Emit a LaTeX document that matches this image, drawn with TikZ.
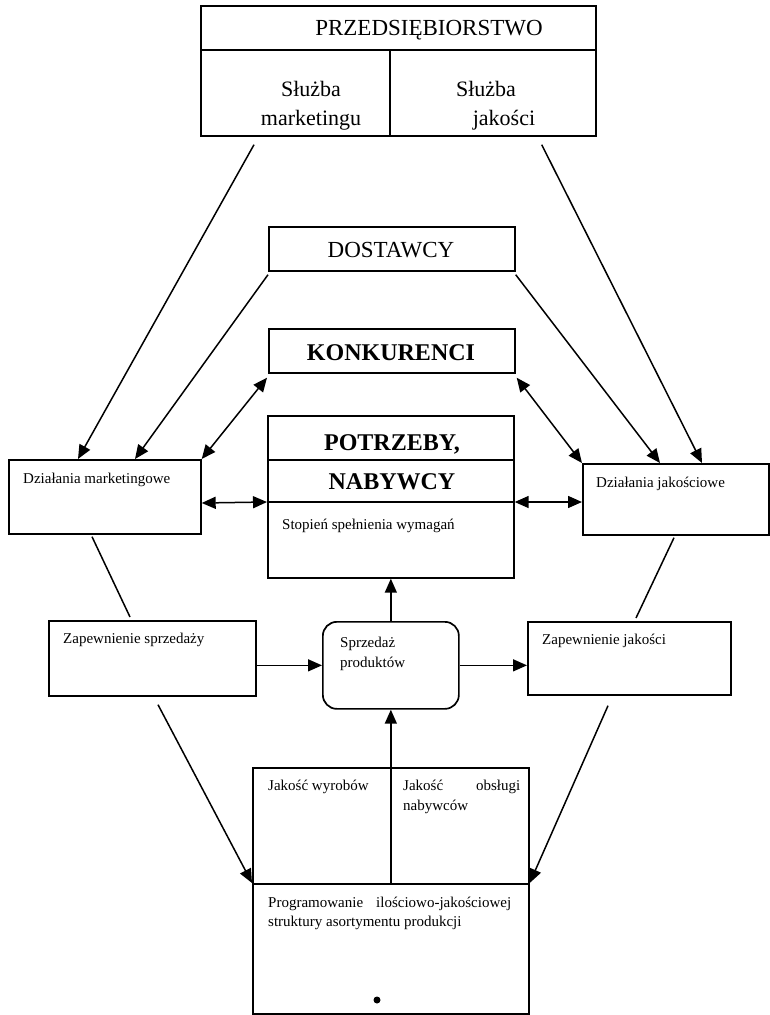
\documentclass[tikz,border=0pt]{standalone}
\usepackage{fontspec}
\setmainfont{Liberation Serif}
\usetikzlibrary{arrows.meta,calc}
\begin{document}
\begin{tikzpicture}[x=1pt,y=-1pt,
  box/.style={draw, line width=1.7pt, inner sep=0pt, anchor=north west},
  big/.style={inner sep=0pt, anchor=base, font=\fontsize{22}{26}\selectfont},
  bigb/.style={inner sep=0pt, anchor=base, font=\fontsize{24}{28}\selectfont\bfseries},
  lbl/.style={inner sep=0pt, anchor=base west, font=\fontsize{15}{20}\selectfont},
  con/.style={line width=1.5pt},
  arr/.style={con, -{Triangle[length=14pt,width=12pt]}},
  barr/.style={con, {Triangle[length=14pt,width=12pt]}-{Triangle[length=14pt,width=12pt]}},
]
\useasboundingbox (0,0) rectangle (770,1015);

% boxes
\node[box, minimum width=395pt, minimum height=130pt] (firm) at (200,5) {};
\draw[line width=1.7pt] (200,50) -- (595,50);
\draw[line width=1.5pt] (390,50) -- (390,135);
\node[box, minimum width=246pt, minimum height=44pt] (dost) at (268,226) {};
\node[box, minimum width=246pt, minimum height=44pt] (konk) at (268,328) {};
\node[box, minimum width=246pt, minimum height=162pt] (pot) at (267,415) {};
\draw[line width=1.7pt] (267,460) -- (513,460);
\draw[line width=1.7pt] (267,502) -- (513,502);
\node[box, minimum width=192pt, minimum height=74pt] (dm) at (8,459) {};
\node[box, minimum width=186pt, minimum height=71pt] (dj) at (582,463) {};
\node[box, minimum width=207pt, minimum height=75pt] (zs) at (48,620) {};
\node[box, minimum width=136pt, minimum height=87pt, rounded corners=14pt] (sp) at (322,621) {};
\node[box, minimum width=203pt, minimum height=73pt] (zj) at (527,621) {};
\node[box, minimum width=276pt, minimum height=116pt] (jak) at (252,767) {};
\node[box, minimum width=276pt, minimum height=130pt] (prog) at (252,883) {};
\fill (377,1000) circle (3.5pt);

% texts
\node[big, font=\fontsize{23}{27}\selectfont] (tFirm) at (429,35) {PRZEDSIĘBIORSTWO};
\node[big] (tSM1) at (311,96) {Służba};
\node[big] (tSM2) at (311,125) {marketingu};
\node[big] (tSJ1) at (486,96) {Służba};
\node[big] (tSJ2) at (504,125) {jakości};
\node[big, font=\fontsize{23}{27}\selectfont] (tDost) at (391,257) {DOSTAWCY};
\node[bigb] (tKonk) at (391,360) {KONKURENCI};
\node[bigb] (tPot1) at (392,450) {POTRZEBY,};
\node[bigb] (tPot2) at (392,489) {NABYWCY};
\node[lbl] (tPot3) at (282,529) {Stopień spełnienia wymagań};
\node[lbl] (tDM) at (23,483) {Działania marketingowe};
\node[lbl] (tDJ) at (596,487) {Działania jakościowe};
\node[lbl] (tZS) at (63,643) {Zapewnienie sprzedaży};
\node[lbl] (tZJ) at (542,644) {Zapewnienie jakości};
\node[lbl] (tSp1) at (340,647) {Sprzedaż};
\node[lbl] (tSp2) at (340,667) {produktów};
\node[lbl] (tJW) at (268,790) {Jakość wyrobów};
\node[lbl] (tJO1) at (403,790) {\makebox[117pt][l]{Jakość\hfill obsługi}};
\node[lbl] (tJO2) at (403,810) {nabywców};
\node[lbl] (tPr1) at (268,907) {\makebox[243pt][l]{Programowanie\hfill ilościowo-jakościowej}};
\node[lbl] (tPr2) at (268,926) {struktury asortymentu produkcji};

% connectors
\draw[arr] ([shift={(54,8)}]firm.south west) -- ([shift={(70,0)}]dm.north west);
\draw[arr] ([shift={(0,3)}]dost.south west) -- ([shift={(127,0)}]dm.north west);
\draw[barr] ([shift={(-1,4)}]konk.south west) -- (dm.north east);
\draw[arr] ([shift={(-55,8)}]firm.south east) -- ([shift={(120,0)}]dj.north west);
\draw[arr] ([shift={(0,3)}]dost.south east) -- ([shift={(78,0)}]dj.north west);
\draw[barr] ([shift={(1,4)}]konk.south east) -- (dj.north west);
\draw[barr] ([shift={(0,44)}]dm.north east) -- ([shift={(0,87)}]pot.north west);
\draw[barr] ([shift={(0,87)}]pot.north east) -- ([shift={(0,39)}]dj.north west);
\draw[con] ([shift={(84,2)}]dm.south west) -- ([shift={(82,-3)}]zs.north west);
\draw[con] ([shift={(92,2)}]dj.south west) -- ([shift={(109,-3)}]zj.north west);
\draw[arr] (zs.east |- sp.west) -- (sp.west);
\draw[arr] (sp.east) -- (zj.west |- sp.east);
\draw[arr] (sp.north) -- (pot.south);
\draw[con] (jak.north) -- (jak.south);
\draw[arr] (jak.north) -- (sp.south);
\draw[arr] ([shift={(110,8)}]zs.south west) -- (prog.north west);
\draw[arr] ([shift={(81,10)}]zj.south west) -- (prog.north east);
\end{tikzpicture}
\end{document}
